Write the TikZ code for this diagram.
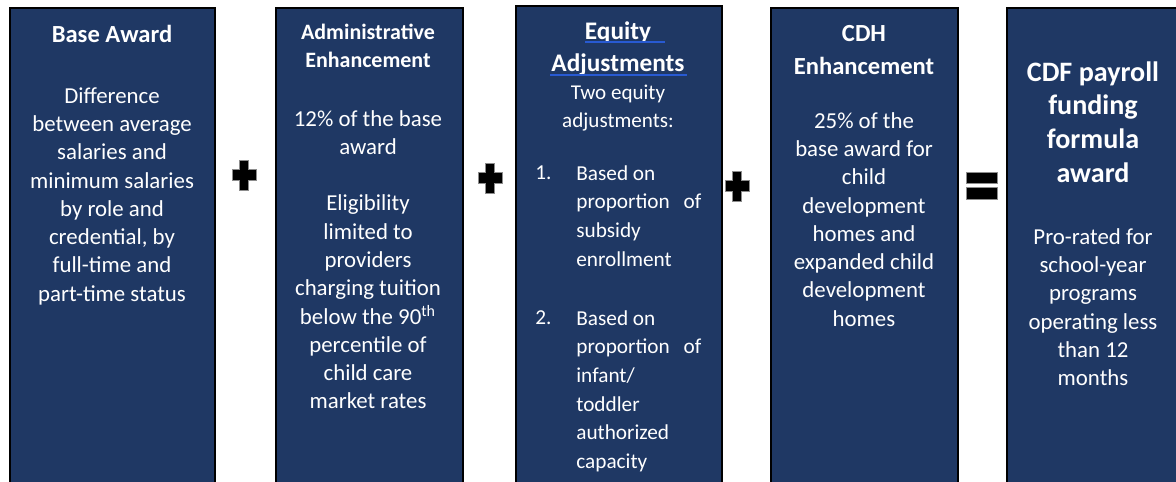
\documentclass[tikz,border=0pt]{standalone}
\usepackage{fontspec}
\setmainfont{Carlito}
\usepackage{tikz}
\definecolor{navy}{RGB}{31,56,100}
\definecolor{spellblue}{RGB}{40,90,210}

\begin{document}
\begin{tikzpicture}[x=0.02cm,y=-0.02cm,
  box/.style={draw=black, line width=1.2pt, fill=navy, anchor=north west, inner sep=0pt, minimum height=10cm},
  head/.style={text=white, font=\fontsize{14}{18.7}\selectfont\bfseries, align=center, anchor=north, inner sep=0pt},
  body/.style={text=white, font=\fontsize{13}{16.1}\selectfont, align=center, anchor=north, inner sep=0pt},
  item/.style={text=white, font=\fontsize{12.1}{16.3}\selectfont, align=left, anchor=north west, inner sep=0pt},
  sign/.style={fill=black, draw=black!45, line width=0.5pt}]
\useasboundingbox (0,0) rectangle (1176,481);
\fill[white] (0,0) rectangle (1176,481);

% the five boxes
\node[box, minimum width=4.1cm] (base) at (9,7) {};
\node[box, minimum width=3.74cm] (admin) at (275,7) {};
\node[box, minimum width=4.12cm] (equity) at (515,5) {};
\node[box, minimum width=3.74cm] (cdh) at (770,7) {};
\node[box, minimum width=4cm] (cdf) at (1006,7) {};

% base award
\node[head] (basehead) at (112,25) {Base Award};
\node[body] (basetext) at (112,87) {Difference\\between average\\salaries and\\minimum salaries\\by role and\\credential, by\\full-time and\\part-time status};

% administrative enhancement
\node[head, font=\fontsize{12.5}{15.9}\selectfont\bfseries] (adminhead) at (368,24) {Administrative\\Enhancement};
\node[body] (admintext) at (368,110) {12\% of the base\\award\\[16pt]Eligibility\\limited to\\providers\\charging tuition\\below the 90\textsuperscript{th}\\percentile of\\child care\\market rates};

% equity adjustments
\node[head, font=\fontsize{14.4}{18.7}\selectfont\bfseries] (equityhead) at (618,21) {Equity\\Adjustments};
\draw[spellblue, line width=1.3pt] (585,42) -- (665,42);
\draw[spellblue, line width=1.3pt] (550,75) -- (687,75);
\node[body, font=\fontsize{12}{15.6}\selectfont] (equitytext) at (618,85) {Two equity\\adjustments:};
\node[item] (num1) at (535,165) {1.};
\node[item] (item1) at (576,165) {Based on\\proportion\hspace{0.65em}of\\subsidy\\enrollment};
\node[item] (num2) at (535,310) {2.};
\node[item] (item2) at (576,310) {Based on\\proportion\hspace{0.65em}of\\infant/\\toddler\\authorized\\capacity};

% cdh enhancement
\node[head] (cdhhead) at (864,25) {CDH\\Enhancement};
\node[body] (cdhtext) at (864,112) {25\% of the\\base award for\\child\\development\\homes and\\expanded child\\development\\homes};

% result
\node[head, font=\fontsize{16}{19.3}\selectfont\bfseries] (cdfhead) at (1093,61) {CDF payroll\\funding\\formula\\award};
\node[body] (cdftext) at (1093,228) {Pro-rated for\\school-year\\programs\\operating less\\than 12\\months};

% plus and equals signs
\foreach \cx/\cy in {244/175, 490/178, 737/186} {
  \draw[sign] (\cx-12,\cy-5.5) -- (\cx-4.5,\cy-5.5) -- (\cx-4.5,\cy-15) -- (\cx+4.5,\cy-15)
    -- (\cx+4.5,\cy-5.5) -- (\cx+12,\cy-5.5) -- (\cx+12,\cy+5.5) -- (\cx+4.5,\cy+5.5)
    -- (\cx+4.5,\cy+15) -- (\cx-4.5,\cy+15) -- (\cx-4.5,\cy+5.5) -- (\cx-12,\cy+5.5) -- cycle;
}
\draw[sign] (966,172) rectangle (997,183);
\draw[sign] (966,187) rectangle (997,199);
\end{tikzpicture}
\end{document}
